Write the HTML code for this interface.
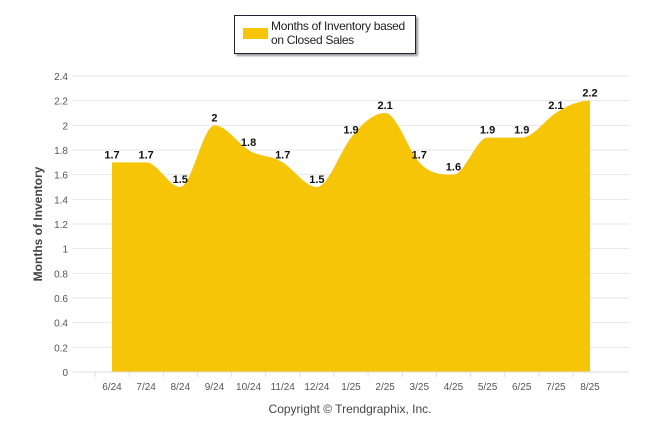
<!DOCTYPE html>
<html><head><meta charset="utf-8"><style>
body{margin:0;background:#fff;font-family:"Liberation Sans",sans-serif}
#wrap{position:relative;width:646px;height:434px}
#legend{position:absolute;left:234px;top:15px;width:180px;height:37px;border:1px solid #223;box-shadow:2px 2px 2px #999;background:#fff}
#legend .sw{position:absolute;left:8px;top:12px;width:25px;height:11px;background:#f7c508}
#legend .tx{position:absolute;left:36px;top:3px;font-size:12px;line-height:14px;color:#222;letter-spacing:-0.3px}
</style></head><body>
<div id="wrap">
<div id="legend"><div class="sw"></div><div class="tx">Months of Inventory based<br>on Closed Sales</div></div>
<svg id="svg" width="646" height="434" style="position:absolute;left:0;top:0"></svg>
</div>
<script>
const categories=["6/24","7/24","8/24","9/24","10/24","11/24","12/24","1/25","2/25","3/25","4/25","5/25","6/25","7/25","8/25"];
const values=[1.7,1.7,1.5,2,1.8,1.7,1.5,1.9,2.1,1.7,1.6,1.9,1.9,2.1,2.2];
const yTicks=[0,0.2,0.4,0.6,0.8,1,1.2,1.4,1.6,1.8,2,2.2,2.4];
const svg=document.getElementById('svg');const NS='http://www.w3.org/2000/svg';
const x0=112,x1=590,y0=372,y1=76,ymax=2.4,ax0=78,ax1=629;
const X=i=>x0+(x1-x0)*i/(categories.length-1);
const Y=v=>y0-(y0-y1)*v/ymax;
function mk(t,a,txt){const e=document.createElementNS(NS,t);for(const k in a)e.setAttribute(k,a[k]);if(txt!=null)e.textContent=txt;svg.appendChild(e);return e;}
yTicks.forEach(v=>{
const g=mk('line',{x1:ax0-6,x2:ax1,y1:Y(v),y2:Y(v),stroke:'#e6e6e6','stroke-width':1});


const t=mk('text',{x:68,y:Y(v)+4,'text-anchor':'end','font-size':10,fill:'#555'},String(v));


});
// area path (cardinal-ish smoothing)
const pts=values.map((v,i)=>[X(i),Y(v)]);
let d=`M${pts[0][0]},${y0}L${pts[0][0]},${pts[0][1]}`;
for(let i=0;i<pts.length-1;i++){
const p0=pts[Math.max(0,i-1)],p1=pts[i],p2=pts[i+1],p3=pts[Math.min(pts.length-1,i+2)];
const t=0.2;
let c1y=p1[1]+(p2[1]-p0[1])*t,c2y=p2[1]-(p3[1]-p1[1])*t;
if((p1[1]-p0[1])*(p2[1]-p1[1])<=0)c1y=p1[1];
if((p2[1]-p1[1])*(p3[1]-p2[1])<=0)c2y=p2[1];
const c1x=p1[0]+(p2[0]-p1[0])/3,c2x=p2[0]-(p2[0]-p1[0])/3;
d+=`C${c1x},${c1y} ${c2x},${c2y} ${p2[0]},${p2[1]}`;}
d+=`L${pts[pts.length-1][0]},${y0}Z`;
const area=mk('path',{d:d,fill:'#f7c508'});


const ax=mk('line',{x1:ax0,x2:ax1,y1:y0,y2:y0,stroke:'#ddd'});


categories.forEach((c,i)=>{
const tk=mk('line',{x1:X(i)-17,x2:X(i)-17,y1:y0,y2:y0+5,stroke:'#ddd'});


const t=mk('text',{x:X(i),y:390,'text-anchor':'middle','font-size':10,fill:'#555'},c);


const l=mk('text',{x:X(i),y:Y(values[i])-4,'text-anchor':'middle','font-size':11,'font-weight':'bold',fill:'#111'},String(values[i]));


});
const yt=mk('text',{x:0,y:0,transform:'translate(42,224) rotate(-90)','text-anchor':'middle','font-size':12,'font-weight':'bold',fill:'#444'},'Months of Inventory');


const cp=mk('text',{x:350,y:413,'text-anchor':'middle','font-size':12,fill:'#444'},'Copyright © Trendgraphix, Inc.');


</script>
</body></html>
